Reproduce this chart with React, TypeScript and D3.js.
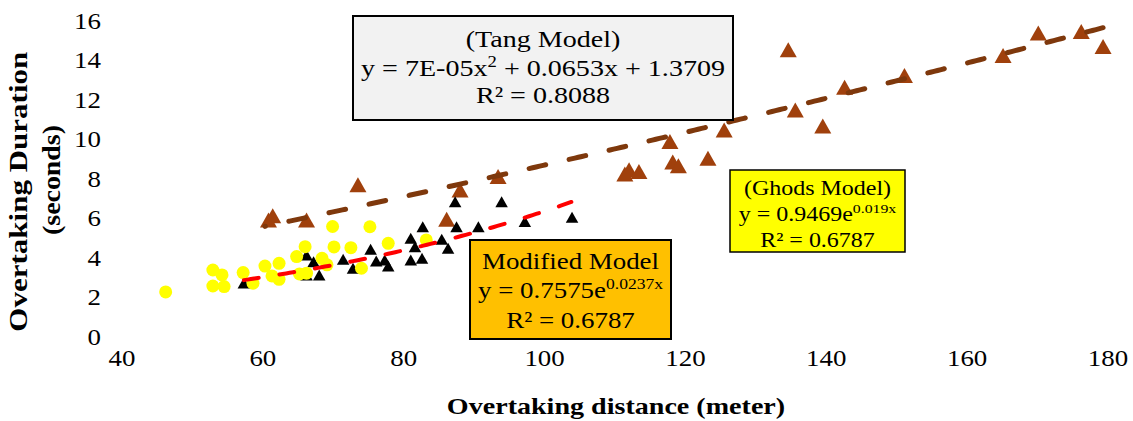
import React from "react";
import * as d3 from "d3";

// ---- data ----
const xTicks = [40, 60, 80, 100, 120, 140, 160, 180];
const yTicks = [0, 2, 4, 6, 8, 10, 12, 14, 16];

// Tang data (brown triangles)
const tangX = [60.8, 61.4, 66.2, 73.5, 86.1, 88.0, 93.4, 111.4, 112.0, 113.4, 117.8, 118.2, 119.0, 123.2, 125.5, 134.6, 135.6, 139.5, 142.6, 151.1, 165.1, 170.1, 176.2, 179.3];
const tangY = [5.92, 6.13, 5.92, 7.7, 5.96, 7.44, 8.12, 8.25, 8.46, 8.37, 9.89, 8.85, 8.67, 9.05, 10.48, 14.53, 11.49, 10.68, 12.64, 13.23, 14.24, 15.38, 15.46, 14.7];

// Modified model data (black triangles)
const modX = [57.3, 66.2, 66.2, 67.2, 68.0, 71.4, 72.8, 75.3, 76.1, 77.3, 77.8, 81.0, 81.0, 81.6, 82.6, 82.7, 85.4, 86.3, 87.3, 87.5, 90.6, 93.9, 97.2, 103.9];
const modY = [2.73, 4.15, 3.14, 3.81, 3.14, 3.93, 3.48, 4.44, 3.85, 3.9, 3.59, 5.0, 3.9, 4.57, 3.98, 5.58, 4.95, 4.49, 6.85, 5.58, 5.58, 6.85, 5.84, 6.06];

// Ghods data (yellow circles)
const ghodsX = [46.2, 52.9, 54.2, 52.9, 54.5, 57.2, 58.6, 60.3, 61.3, 62.3, 62.3, 64.8, 66.0, 65.2, 66.2, 68.4, 69.1, 69.9, 70.1, 72.5, 74.0, 75.2, 77.8, 83.2];
const ghodsY = [2.28, 3.39, 3.14, 2.58, 2.55, 3.26, 2.72, 3.59, 3.09, 3.73, 2.92, 4.07, 4.57, 3.19, 3.23, 3.98, 3.65, 5.59, 4.56, 4.52, 3.48, 5.58, 4.74, 4.91];

// trendline coefficients (as drawn)
const tangCoef = [1.3709, 0.0653, 0.00008]; // c0 + c1 x + c2 x^2
const modCoef = [0.991, 0.0186]; // a * exp(b x)

const W = 1133;
const H = 421;
const SX = 1.17;
const FONT = "'Liberation Serif', 'Times New Roman', serif";

export default function App() {
  const x = d3.scaleLinear().domain([40, 180]).range([122, 1108]);
  const y = d3.scaleLinear().domain([0, 16]).range([337, 20.8]);

  const tri = (cx: number, cy: number, w: number, h: number) =>
    `M${cx},${cy - h / 2}L${cx + w / 2},${cy + h / 2}L${cx - w / 2},${cy + h / 2}Z`;

  const line = d3
    .line<[number, number]>()
    .x((d) => x(d[0]))
    .y((d) => y(d[1]));

  const tMin = d3.min(tangX)!;
  const tMax = d3.max(tangX)!;
  // drawn from the right end so the dash pattern ends on a full dash there
  const tangPts: [number, number][] = d3
    .range(tMin - 0.5, tMax + 0.001, 0.5)
    .map((v) => [v, tangCoef[0] + tangCoef[1] * v + tangCoef[2] * v * v] as [number, number])
    .reverse();
  const mMin = d3.min(modX)!;
  const mMax = d3.max(modX)!;
  const modPts: [number, number][] = d3
    .range(mMin, mMax + 0.001, 0.5)
    .map((v) => [v, modCoef[0] * Math.exp(modCoef[1] * v)]);

  const sText = (cx: number, by: number) => `translate(${cx},${by}) scale(${SX},1)`;

  return (
    <svg
      width={W}
      height={H}
      style={{ position: "absolute", left: 0, top: 0, background: "#fff" }}
      fontFamily={FONT}
    >
      <rect x={0} y={0} width={W} height={H} fill="#fff" />

      {/* y tick labels */}
      {yTicks.map((t) => (
        <text key={"y" + t} transform={sText(101, y(t) + 8)} textAnchor="end" fontSize={23} fill="#000">
          {t}
        </text>
      ))}
      {/* x tick labels */}
      {xTicks.map((t) => (
        <text key={"x" + t} transform={sText(x(t), 366)} textAnchor="middle" fontSize={23} fill="#000">
          {t}
        </text>
      ))}

      {/* axis titles */}
      <text transform={sText(616, 414)} textAnchor="middle" fontSize={24} fontWeight="bold">
        Overtaking distance (meter)
      </text>
      <text
        transform="translate(27,191.7) rotate(-90)"
        textAnchor="middle"
        fontSize={26}
        fontWeight="bold"
        textLength={280}
        lengthAdjust="spacingAndGlyphs"
      >
        Overtaking Duration
      </text>
      <text
        transform="translate(60,180) rotate(-90)"
        textAnchor="middle"
        fontSize={26}
        fontWeight="bold"
        textLength={110}
        lengthAdjust="spacingAndGlyphs"
      >
        (seconds)
      </text>

      {/* markers: Tang (brown) */}
      {tangX.map((v, i) => (
        <path key={"t" + i} d={tri(x(v), y(tangY[i]), 17, 15)} fill="#A0400C" />
      ))}
      {/* markers: modified (black) */}
      {modX.map((v, i) => (
        <path key={"m" + i} d={tri(x(v), y(modY[i]), 12.5, 11)} fill="#000" />
      ))}
      {/* markers: Ghods (yellow) */}
      {ghodsX.map((v, i) => (
        <circle key={"g" + i} cx={x(v)} cy={y(ghodsY[i])} r={6.5} fill="#FFFF00" />
      ))}

      {/* trendlines */}
      <path
        d={line(tangPts) || ""}
        fill="none"
        stroke="#7E380C"
        strokeWidth={5}
        strokeDasharray="17 24"
        strokeLinecap="round"
      />
      <path
        d={line(modPts) || ""}
        fill="none"
        stroke="#FF0000"
        strokeWidth={4}
        strokeDasharray="15 21"
        strokeLinecap="round"
      />

      {/* Tang box */}
      <rect x={353} y={16} width={380} height={104} fill="#F2F2F2" stroke="#000" strokeWidth={2} />
      <text transform={sText(543, 47)} textAnchor="middle" fontSize={24}>
        (Tang Model)
      </text>
      <text transform={sText(543, 76)} textAnchor="middle" fontSize={24}>
        y = 7E-05x
        <tspan fontSize={16} dy={-9}>
          2
        </tspan>
        <tspan dy={9}> + 0.0653x + 1.3709</tspan>
      </text>
      <text transform={sText(543, 103)} textAnchor="middle" fontSize={24}>
        R² = 0.8088
      </text>

      {/* Modified box */}
      <rect x={470} y={240} width={201} height={99} fill="#FFC000" stroke="#000" strokeWidth={2} />
      <text transform={sText(570.5, 269)} textAnchor="middle" fontSize={23}>
        Modified Model
      </text>
      <text transform={sText(570.5, 298)} textAnchor="middle" fontSize={23}>
        y = 0.7575e
        <tspan fontSize={15} dy={-9}>
          0.0237x
        </tspan>
      </text>
      <text transform={sText(570.5, 327.5)} textAnchor="middle" fontSize={23}>
        R² = 0.6787
      </text>

      {/* Ghods box */}
      <rect x={730} y={170} width={175} height={82} fill="#FFFF00" stroke="#000" strokeWidth={1.5} />
      <text transform={sText(817.5, 195)} textAnchor="middle" fontSize={20.5}>
        (Ghods Model)
      </text>
      <text transform={sText(817.5, 220.5)} textAnchor="middle" fontSize={20.5}>
        y = 0.9469e
        <tspan fontSize={13.5} dy={-8}>
          0.019x
        </tspan>
      </text>
      <text transform={sText(817.5, 246.5)} textAnchor="middle" fontSize={20.5}>
        R² = 0.6787
      </text>
    </svg>
  );
}
